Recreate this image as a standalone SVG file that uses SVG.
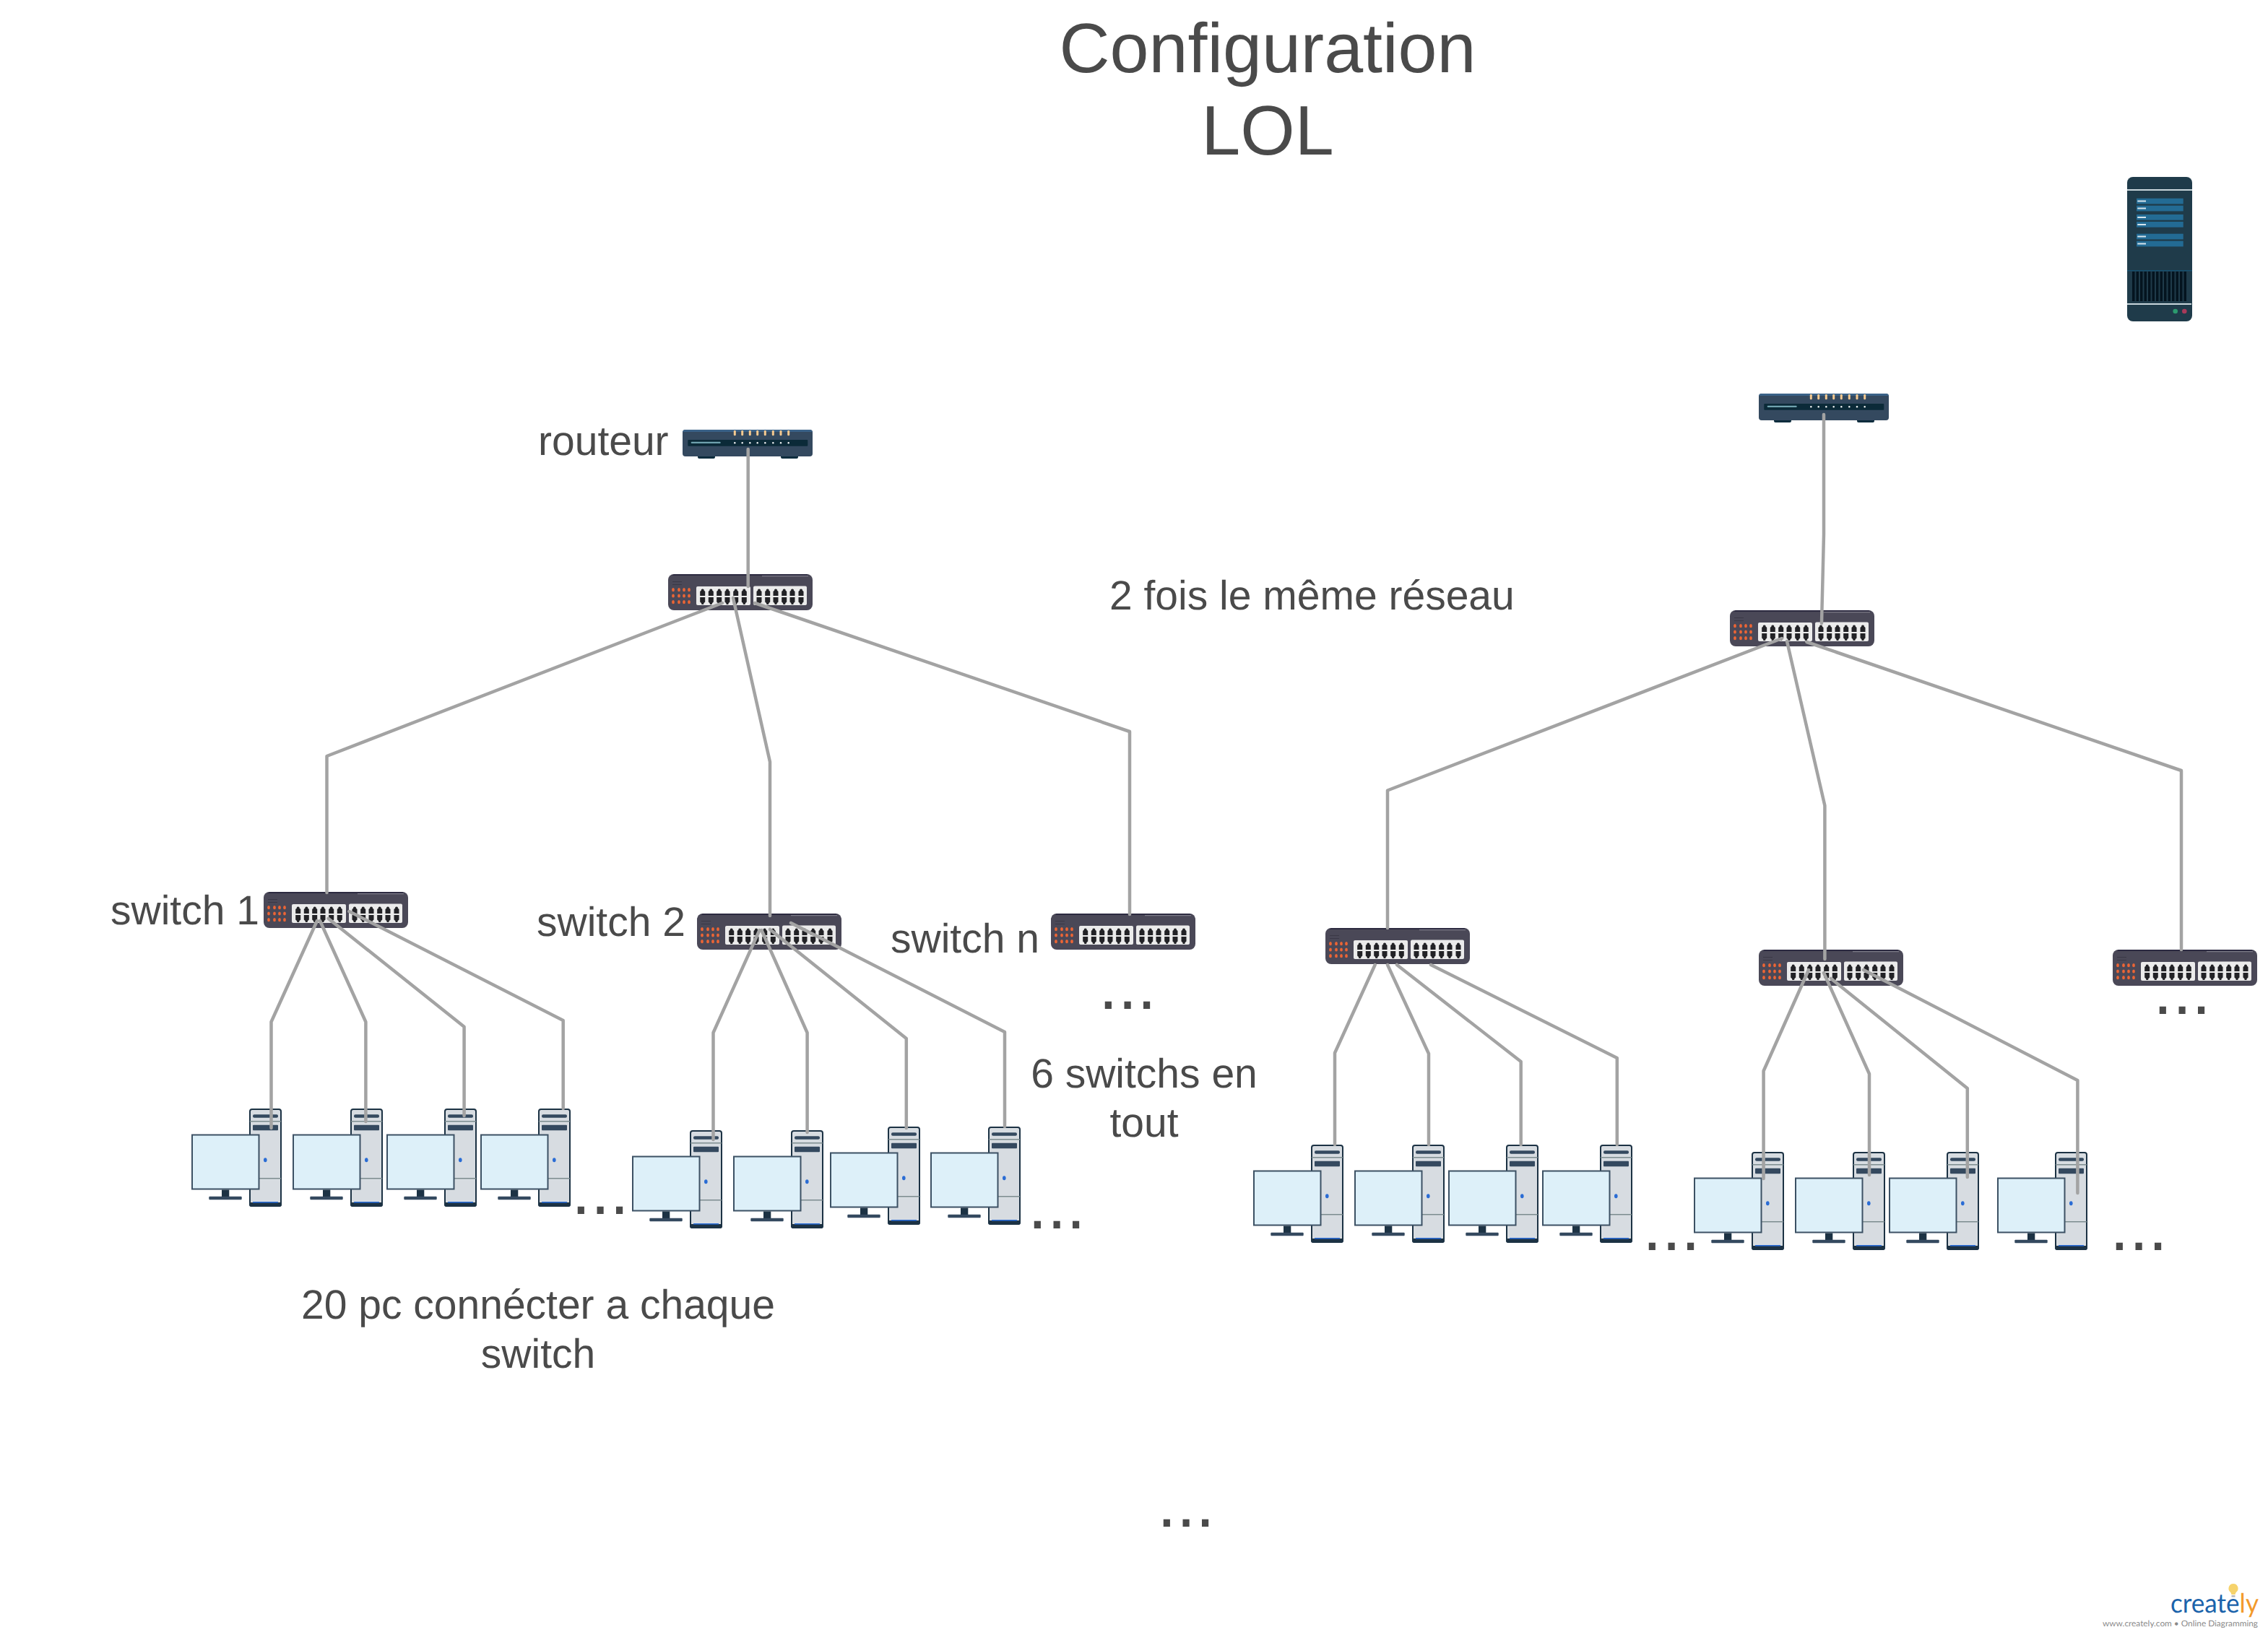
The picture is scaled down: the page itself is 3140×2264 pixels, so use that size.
<svg xmlns="http://www.w3.org/2000/svg" width="3140" height="2264" viewBox="0 0 3140 2264">
<style>
text{font-family:"Liberation Sans",Arial,sans-serif;fill:#4a4a4a;text-rendering:geometricPrecision}
.t{font-size:57px}
.m{text-anchor:middle}
.h{font-size:97px;text-anchor:middle}
.d{font-size:96px}
.c{fill:none;stroke:#a3a3a3;stroke-width:4.500;stroke-linejoin:round;stroke-linecap:round}
</style>
<defs>
<path id="pu" d="M-3.500 9.500V3.600L-1.800 2V.8Q0-.8 1.800.8V2L3.500 3.600V9.500Z" fill="#222226"/>
<path id="pd" d="M-3.500 0H3.500V6.500L1.600 8.200V9.400Q0 10.600-1.600 9.400V8.200L-3.500 6.500Z" fill="#222226"/>
<g id="p2"><use href="#pu" y="20.500"/><use href="#pd" y="32"/></g>
<g id="sw">
<rect width="200" height="50" rx="8" fill="#4a4857"/>
<path d="M8 0H192L195 2H5Z" fill="#2c2a40"/>
<rect x="130" y="2.200" width="64" height="1" fill="#8a8994"/>
<path d="M6 10.500H19M6 14.500H19" stroke="#3a3846" stroke-width="1"/>
<g fill="#ec6535"><ellipse cx="7" cy="21.700" rx="1.900" ry="2.600"/><ellipse cx="15" cy="21.700" rx="1.900" ry="2.600"/><ellipse cx="22" cy="21.700" rx="1.900" ry="2.600"/><ellipse cx="29" cy="21.700" rx="1.900" ry="2.600"/><ellipse cx="7" cy="30" rx="1.900" ry="2.600"/><ellipse cx="15" cy="30" rx="1.900" ry="2.600"/><ellipse cx="22" cy="30" rx="1.900" ry="2.600"/><ellipse cx="29" cy="30" rx="1.900" ry="2.600"/><ellipse cx="7" cy="38.700" rx="1.900" ry="2.600"/><ellipse cx="15" cy="38.700" rx="1.900" ry="2.600"/><ellipse cx="22" cy="38.700" rx="1.900" ry="2.600"/><ellipse cx="29" cy="38.700" rx="1.900" ry="2.600"/></g>
<rect x="39" y="17" width="75" height="26" rx="2" fill="#ebebeb"/>
<rect x="118" y="16.500" width="74" height="26.500" rx="2" fill="#ebebeb"/>
<use href="#p2" x="47.700"/><use href="#p2" x="59.300"/><use href="#p2" x="70.700"/><use href="#p2" x="82"/><use href="#p2" x="93.700"/><use href="#p2" x="105.300"/>
<use href="#p2" x="126"/><use href="#p2" x="137.700"/><use href="#p2" x="149"/><use href="#p2" x="160.700"/><use href="#p2" x="172"/><use href="#p2" x="184"/>
</g>
<g id="led"><rect x="-1.500" y="1" width="3" height="7.300" rx="1.200" fill="#f5c98f"/><circle cy="18.300" r="1.200" fill="#f4f7f7"/></g>
<g id="rt">
<rect x="21" y="33" width="24" height="7" rx="2" fill="#0d2c3d"/><rect x="136" y="33" width="24" height="7" rx="2" fill="#0d2c3d"/>
<rect width="180" height="37" rx="4" fill="#34495f"/>
<path d="M4 0H176Q179.500 0 180 3H0Q.5 0 4 0Z" fill="#3a6288"/>
<rect x="7.300" y="14" width="166" height="8.700" rx="1" fill="#0b2a38"/>
<rect x="11.700" y="16.700" width="41" height="2.400" rx="1" fill="#6fa2ae"/>
<use href="#led" x="72.300"/><use href="#led" x="82.700"/><use href="#led" x="93.300"/><use href="#led" x="103.700"/><use href="#led" x="114.300"/><use href="#led" x="125.300"/><use href="#led" x="136"/><use href="#led" x="146.700"/>
</g>
<g id="pc">
<rect x="81" y="1" width="43" height="134" rx="3" fill="#d7dce1" stroke="#1c3244" stroke-width="2"/>
<path d="M80 130H125V133Q125 136 122 136H83Q80 136 80 133Z" fill="#1c3244"/>
<rect x="85" y="129" width="35" height="1.600" fill="#2a6cd4"/>
<rect x="85" y="8.300" width="35" height="4.400" rx="2" fill="#34495f"/>
<rect x="85" y="22.700" width="35" height="7.600" rx="1" fill="#34495f"/>
<path d="M81 17.700H124M81 96.700H124" stroke="#7c8c8f" stroke-width="1.500"/>
<ellipse cx="102.300" cy="71.300" rx="2.300" ry="3" fill="#2a6cd4"/>
<rect x="1" y="36.500" width="92.500" height="75" fill="#ddf0f9" stroke="#3c5164" stroke-width="2"/>
<rect x="42" y="112.500" width="10.300" height="9.500" fill="#1c3244"/>
<rect x="24.300" y="121.700" width="45.400" height="4.600" rx="1" fill="#34495f"/>
</g>
</defs>
<rect width="3140" height="2264" fill="#fff"/>

<g id="title"><text class="h" x="1755" y="100">Configuration</text><text class="h" x="1755" y="214">LOL</text></g>

<g id="server"><g transform="translate(2945 245)">
<rect width="90" height="200" rx="8" fill="#1f3b4a"/>
<rect y="17" width="90" height="2" fill="#c9d6dc"/>
<g fill="#236b94"><rect x="13" y="29.700" width="64.700" height="7.700"/><rect x="13" y="39.700" width="64.700" height="7.700"/><rect x="13" y="52" width="64.700" height="7.700"/><rect x="13" y="62" width="64.700" height="7.700"/><rect x="13" y="78.700" width="64.700" height="7.700"/><rect x="13" y="88.700" width="64.700" height="7.700"/></g>
<g fill="#d5e4ec"><rect x="14.300" y="32.500" width="11.700" height="2"/><rect x="14.300" y="42.500" width="11.700" height="2"/><rect x="14.300" y="55" width="11.700" height="2"/><rect x="14.300" y="65" width="11.700" height="2"/><rect x="14.300" y="81.500" width="11.700" height="2"/><rect x="14.300" y="91.500" width="11.700" height="2"/></g>
<rect y="129" width="90" height="1.500" fill="#17506e"/>
<g fill="#04141f"><rect x="7" y="131" width="3.500" height="41"/><rect x="12.500" y="131" width="3.500" height="41"/><rect x="18" y="131" width="3.500" height="41"/><rect x="23.500" y="131" width="3.500" height="41"/><rect x="29" y="131" width="3.500" height="41"/><rect x="34.500" y="131" width="3.500" height="41"/><rect x="40" y="131" width="3.500" height="41"/><rect x="45.500" y="131" width="3.500" height="41"/><rect x="51" y="131" width="3.500" height="41"/><rect x="56.500" y="131" width="3.500" height="41"/><rect x="62" y="131" width="3.500" height="41"/><rect x="67.500" y="131" width="3.500" height="41"/><rect x="73" y="131" width="3.500" height="41"/><rect x="78.500" y="131" width="3.500" height="41"/></g>
<rect y="175" width="89" height="2" fill="#c9d6dc"/>
<circle cx="66.700" cy="186" r="3.300" fill="#2c9a6e"/><circle cx="79.300" cy="186" r="3.300" fill="#a83a5a"/>
</g></g>

<g id="router-1"><use href="#rt" x="945" y="595"/></g>
<g id="router-2"><use href="#rt" x="2435" y="545"/></g>
<g id="switch-core-1"><use href="#sw" x="925" y="795"/></g>
<g id="switch-core-2"><use href="#sw" x="2395" y="845"/></g>
<g id="switch-1"><use href="#sw" x="365" y="1235"/></g>
<g id="switch-2"><use href="#sw" x="965" y="1265"/></g>
<g id="switch-n"><use href="#sw" x="1455" y="1265"/></g>
<g id="switch-r1"><use href="#sw" x="1835" y="1285"/></g>
<g id="switch-r2"><use href="#sw" x="2435" y="1315"/></g>
<g id="switch-r3"><use href="#sw" x="2925" y="1315"/></g>

<g id="pc-1"><use href="#pc" x="265" y="1535"/></g>
<g id="pc-2"><use href="#pc" x="405" y="1535"/></g>
<g id="pc-3"><use href="#pc" x="535" y="1535"/></g>
<g id="pc-4"><use href="#pc" x="665" y="1535"/></g>
<g id="pc-5"><use href="#pc" x="875" y="1565"/></g>
<g id="pc-6"><use href="#pc" x="1015" y="1565"/></g>
<g id="pc-7"><use href="#pc" x="1149" y="1560"/></g>
<g id="pc-8"><use href="#pc" x="1288" y="1560"/></g>
<g id="pc-9"><use href="#pc" x="1735" y="1585"/></g>
<g id="pc-10"><use href="#pc" x="1875" y="1585"/></g>
<g id="pc-11"><use href="#pc" x="2005" y="1585"/></g>
<g id="pc-12"><use href="#pc" x="2135" y="1585"/></g>
<g id="pc-13"><use href="#pc" x="2345" y="1595"/></g>
<g id="pc-14"><use href="#pc" x="2485" y="1595"/></g>
<g id="pc-15"><use href="#pc" x="2615" y="1595"/></g>
<g id="pc-16"><use href="#pc" x="2765" y="1595"/></g>

<g id="connectors">
<path class="c" d="M1035.700 622V812"/>
<path class="c" d="M1000 835L452.500 1047V1236"/>
<path class="c" d="M1015 828L1066 1055V1268"/>
<path class="c" d="M1045 835L1564 1013V1266"/>
<path class="c" d="M439 1275L375.500 1415V1562"/>
<path class="c" d="M443 1275L506.400 1415V1553"/>
<path class="c" d="M454.700 1272L642.600 1421.700V1545"/>
<path class="c" d="M483.400 1262L779.700 1413V1535"/>
<path class="c" d="M1051.500 1288L987.500 1430V1578"/>
<path class="c" d="M1054.400 1288L1117.600 1430V1568"/>
<path class="c" d="M1066 1287L1254.800 1438V1562"/>
<path class="c" d="M1095 1278L1391 1429V1560"/>
<path class="c" d="M2525 574V740L2522 863"/>
<path class="c" d="M2467 884L1921 1094.500V1285"/>
<path class="c" d="M2474 888L2526.400 1115.500V1328"/>
<path class="c" d="M2501.400 889L3020 1067V1315"/>
<path class="c" d="M1903.700 1336L1848 1458V1585"/>
<path class="c" d="M1921 1336L1978 1459V1585"/>
<path class="c" d="M1934 1336L2105.700 1470V1585"/>
<path class="c" d="M1981 1336L2238.800 1465V1585"/>
<path class="c" d="M2504 1343L2441.600 1483V1632"/>
<path class="c" d="M2525 1347L2588 1487V1627"/>
<path class="c" d="M2535 1355L2723.800 1507V1630"/>
<path class="c" d="M2580 1343L2876.400 1496V1652"/>
</g>

<g id="labels">
<text class="t" x="745" y="630">routeur</text>
<text class="t" x="153" y="1280">switch 1</text>
<text class="t" x="743" y="1296">switch 2</text>
<text class="t" x="1233" y="1319">switch n</text>
<text class="t" x="1536" y="844">2 fois le même réseau</text>
<text class="t m" x="1584" y="1506">6 switchs en</text>
<text class="t m" x="1584" y="1574">tout</text>
<text class="t m" x="745" y="1826">20 pc connécter a chaque</text>
<text class="t m" x="745" y="1894">switch</text>
<text class="d" x="791" y="1681">...</text>
<text class="d" x="1423" y="1701">...</text>
<text class="d" x="1521" y="1397">...</text>
<text class="d" x="1602" y="2114">...</text>
<text class="d" x="2274" y="1731">...</text>
<text class="d" x="2921" y="1731">...</text>
<text class="d" x="2981" y="1404">...</text>
</g>

<g id="logo">
<path d="M3092 2193a6.500 6.500 0 0 1 4.200 11.500q-1.400 1.300-1.600 3.500h-5.200q-.2-2.200-1.600-3.500a6.500 6.500 0 0 1 4.200-11.500Z" fill="#f6d36c"/>
<rect x="3089.500" y="2209" width="5" height="2.500" fill="#b8b8b8"/>
<text x="3005" y="2233" style="font-family:Lato,sans-serif;font-size:37px;fill:#1b63ab" textLength="122" lengthAdjust="spacingAndGlyphs">create<tspan style="fill:#f39a2b">ly</tspan></text>
<text x="2911" y="2252" style="font-family:Lato,sans-serif;font-size:11.500px;fill:#8a8a8a" textLength="215" lengthAdjust="spacingAndGlyphs">www.creately.com • Online Diagramming</text>
</g>
</svg>
